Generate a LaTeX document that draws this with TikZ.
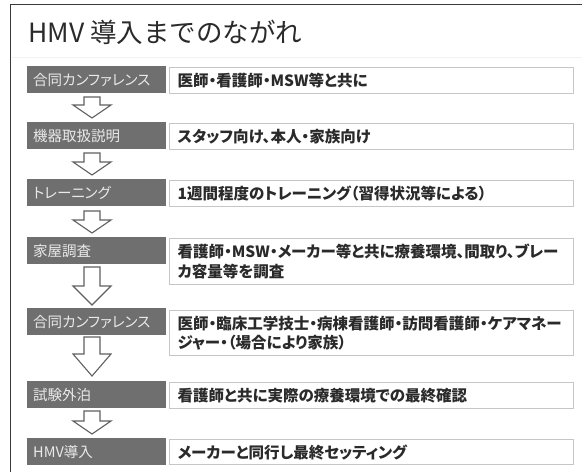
\documentclass[tikz,border=0pt]{standalone}
\usepackage{fontspec}
\setmainfont{Noto Sans CJK JP}
\newfontfamily\proptext{Noto Sans CJK JP}[RawFeature=+palt]
\definecolor{labfill}{HTML}{6F6F6F}
\definecolor{labtext}{HTML}{EAEAEA}
\definecolor{descdraw}{HTML}{C6C6C6}
\definecolor{desctext}{HTML}{2A2A2A}
\definecolor{arrowdraw}{HTML}{606060}
\definecolor{framecol}{HTML}{3A3A3A}
\definecolor{titletext}{HTML}{2A2A2A}
\tikzset{
  lab/.style={fill=labfill, text=labtext, anchor=north west, minimum width=139pt,
    minimum height=27pt, inner xsep=6pt, inner ysep=0pt, text width=127pt, align=left,
    text height=12.7pt, text depth=1.7pt,
    font=\proptext\fontsize{14.5}{17}\selectfont},
  desc/.style={draw=descdraw, line width=1.3pt, fill=white, anchor=north west,
    minimum width=404pt, inner xsep=8pt, inner ysep=0pt, text width=388pt, align=left,
    text=desctext, font=\proptext\bfseries\fontsize{15.5}{19.5}\selectfont},
  blockarr/.style={draw=arrowdraw, line width=1.1pt, fill=white, line join=miter},
  frameline/.style={draw=framecol, line width=1.6pt},
  titlestyle/.style={text=titletext, anchor=base west, inner sep=0pt,
    font=\fontsize{26.5}{30}\selectfont}
}
\newcommand\blockarrow[4]{%
  \draw[blockarr] (#1-8,#2) -- (#1+8,#2) -- (#1+8,#3) -- (#1+19,#3) -- (#1,#4)
    -- (#1-19,#3) -- (#1-8,#3) -- cycle;}
\begin{document}
\begin{tikzpicture}[x=1pt,y=-1pt]
\useasboundingbox (0,0) rectangle (582,472);
\clip (0,0) rectangle (582,472);
\fill[white] (0,0) rectangle (582,472);
\draw[frameline] (10.5,490) -- (10.5,4.5) -- (600,4.5);
\draw[gray!10, line width=1pt] (11.5,57.5) -- (582,57.5);
\node[titlestyle] (title) at (28,42.5) {HMV 導入までのながれ};
% rows
\node[lab] (g1) at (27,66) {合同カンファレンス};
\node[desc, minimum height=26pt] (d1) at (169,67) {医師・看護師・MSW等と共に};
\node[lab] (g2) at (27,122) {機器取扱説明};
\node[desc, minimum height=26pt] (d2) at (169,123) {スタッフ向け、本人・家族向け};
\node[lab] (g3) at (27,179) {トレーニング};
\node[desc, minimum height=26pt] (d3) at (169,180) {1週間程度のトレーニング（習得状況等による）};
\node[lab] (g4) at (27,237) {家屋調査};
\node[desc, minimum height=46pt] (d4) at (169,238) {看護師・MSW・メーカー等と共に療養環境、間取り、ブレー\\カ容量等を調査};
\node[lab] (g5) at (27,308) {合同カンファレンス};
\node[desc, minimum height=45pt] (d5) at (169,310) {医師・臨床工学技士・病棟看護師・訪問看護師・ケアマネー\\ジャー・（場合により家族）};
\node[lab] (g6) at (27,381) {試験外泊};
\node[desc, minimum height=26pt] (d6) at (169,382) {看護師と共に実際の療養環境での最終確認};
\node[lab] (g7) at (27,438) {HMV導入};
\node[desc, minimum height=25pt] (d7) at (169,439) {メーカーと同行し最終セッティング};
% block arrows
\blockarrow{92}{97}{105}{118}
\blockarrow{92}{153}{162}{175}
\blockarrow{92}{211}{220}{233}
\blockarrow{92}{267}{286}{305}
\blockarrow{92}{337}{354}{376}
\blockarrow{92}{411}{421}{434}
\end{tikzpicture}
\end{document}
